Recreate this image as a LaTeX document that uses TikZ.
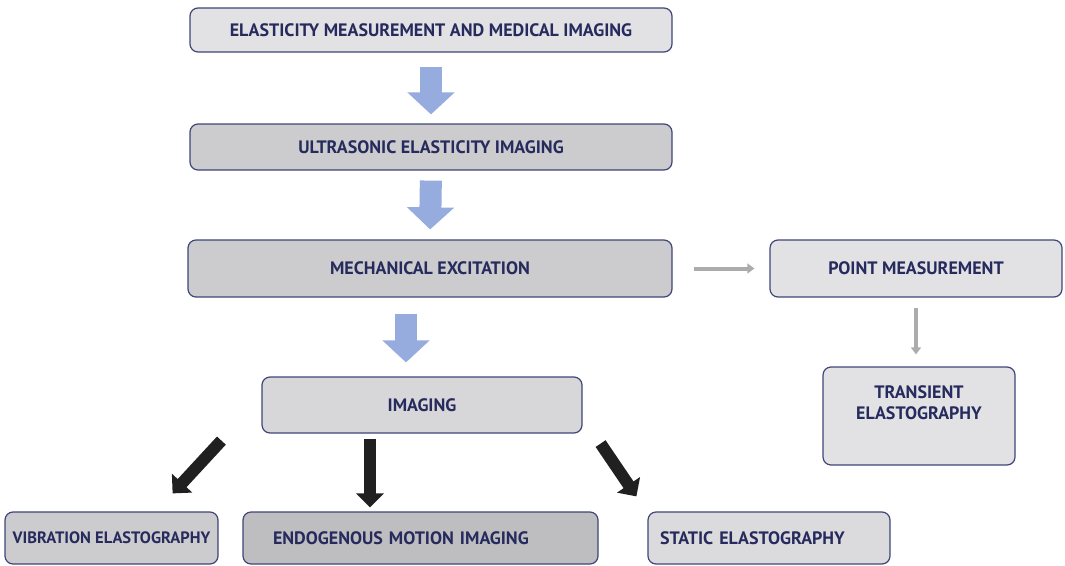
\documentclass[tikz,border=0pt]{standalone}
\usepackage{fontspec}
\setmainfont{PT Sans}
\usepackage{xcolor}
\usepackage{tikz}
\usetikzlibrary{positioning,arrows.meta}
\definecolor{boxline}{RGB}{62,70,122}
\definecolor{boxtext}{RGB}{38,42,92}
\definecolor{lightbox}{RGB}{226,226,229}
\definecolor{midbox}{RGB}{204,204,206}
\definecolor{darkbox}{RGB}{190,190,192}
\definecolor{bluearrow}{RGB}{150,171,222}
\definecolor{grayarrow}{RGB}{172,172,172}
\definecolor{blackarrow}{RGB}{32,32,32}

\begin{document}
\begin{tikzpicture}[x=1pt,y=-1pt]%[pixel grid of the figure]
    \tikzstyle{box} = [draw=boxline, line width=1.2pt, rounded
    corners=8pt, text=boxtext, font=\fontsize{18}{21}\selectfont\bfseries,
    align=center, inner sep=4pt]
    \tikzstyle{blue} = [draw=bluearrow, line width=22pt,
    -{Triangle[length=22pt,width=46pt]}]
    \tikzstyle{grey} = [draw=grayarrow, line width=4pt,
    -{Triangle[length=7pt,width=10pt]}]
    \tikzstyle{dark} = [draw=blackarrow, line width=12pt,
    -{Triangle[length=14pt,width=27pt]}]
    \useasboundingbox (0,0) rectangle (1065,565);
    \node[box, fill=lightbox, minimum width=482pt, minimum height=44pt]
    (top) at (431,30) {ELASTICITY MEASUREMENT AND MEDICAL IMAGING};
    \node[box, fill=midbox, minimum width=482pt, minimum height=46pt]
    (ultra) at (431,147) {ULTRASONIC ELASTICITY IMAGING}; \node[box,
    fill=midbox, minimum width=484pt, minimum height=57pt] (mech) at
    (430,268.5) {MECHANICAL EXCITATION}; \node[box, fill=lightbox,
    minimum width=292pt, minimum height=57pt] (point) at (916,268.5)
    {POINT MEASUREMENT}; \node[box, fill=lightbox, minimum width=192pt,
    minimum height=98pt] (trans) at (919,416)
    {TRANSIENT\\ELASTOGRAPHY\\\strut}; \node[box, fill=lightbox!95!black,
    minimum width=320pt, minimum height=56pt] (img) at (422,405)
    {IMAGING};
    \node[box, fill=midbox, minimum width=213pt, minimum height=52pt,
    inner xsep=2pt, font=\fontsize{16.5}{20}\selectfont\bfseries] (vib)
    at (111.5,538) {VIBRATION ELASTOGRAPHY}; \node[box,
    fill=darkbox, minimum height=52pt, inner xsep=30pt, text
    width=295pt, align=left] (endo) at (420.5,538) {ENDOGENOUS MOTION
    IMAGING}; \node[box, fill=lightbox!97!black, minimum height=52pt,
    inner xsep=12pt, text width=218pt, align=left] (static) at
    (769,538) {STATIC ELASTOGRAPHY};
    % arrows
    \draw[blue, shorten <=14pt, shorten >=9pt] (top.south) --
    (ultra.north); \draw[blue, shorten <=10pt, shorten >=10pt]
    (ultra.south) -- (mech.north); \draw[blue, shorten <=16pt, shorten
    >=14pt] ([xshift=-24pt]mech.south) -- ([xshift=-24pt]mech.south |-
    img.north);
    \draw[grey, shorten <=21pt, shorten >=15pt] (mech.east) --
    (point.west); \draw[grey, shorten <=10pt, shorten >=12pt]
    (point.south) -- (point.south |- trans.north);
    \draw[dark] ([xshift=-40pt,yshift=-7pt]img.south west) --
    ([xshift=-46pt,yshift=18pt]vib.north east); \draw[dark]
    ([xshift=-52pt,yshift=-5pt]img.south) --
    ([xshift=-52pt,yshift=4pt]img.south |- endo.north); \draw[dark]
    ([xshift=18pt,yshift=-10pt]img.south east) --
    ([xshift=-11pt,yshift=15pt]static.north west);
  \end{tikzpicture}
\end{document}
